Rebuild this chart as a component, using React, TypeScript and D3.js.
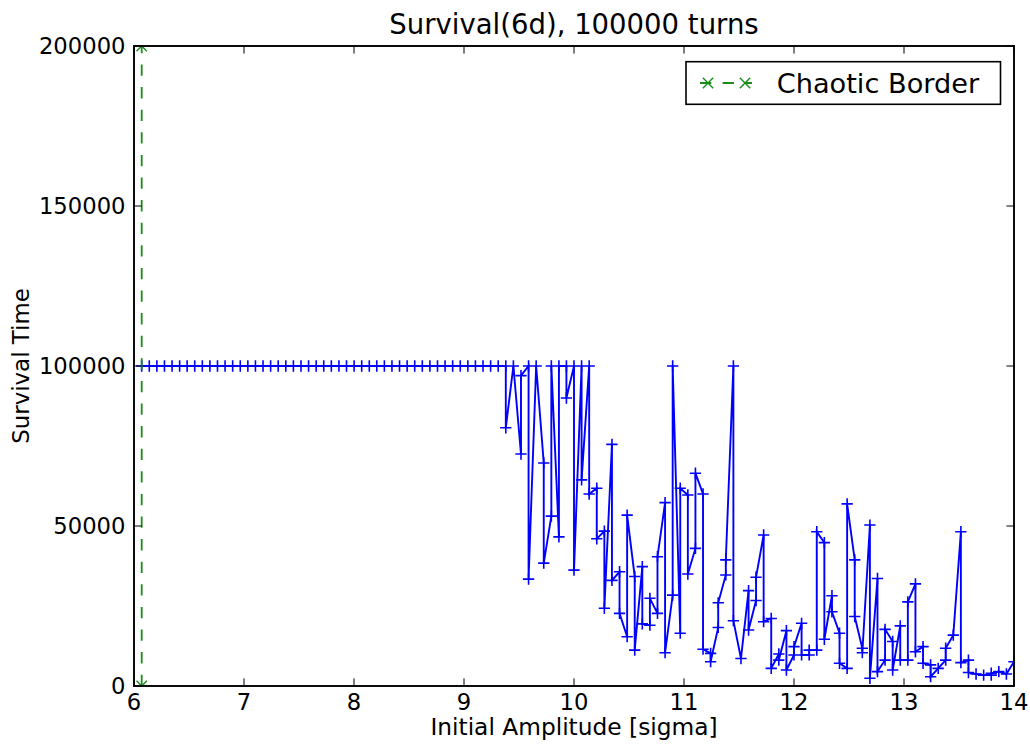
import React from "react";
import * as d3 from "d3";

// Initial amplitudes (in sigma) of the tracked particles
const amplitude = [
  6.070, 6.139, 6.208, 6.277, 6.346, 6.415, 6.483, 6.552, 6.621, 6.690,
  6.759, 6.828, 6.897, 6.966, 7.035, 7.104, 7.173, 7.242, 7.311, 7.380,
  7.449, 7.518, 7.587, 7.656, 7.725, 7.794, 7.863, 7.932, 8.001, 8.070,
  8.139, 8.207, 8.276, 8.345, 8.414, 8.483, 8.552, 8.621, 8.690, 8.759,
  8.828, 8.897, 8.966, 9.035, 9.104, 9.173, 9.242, 9.311, 9.380, 9.449,
  9.518, 9.587, 9.656, 9.725, 9.794, 9.863, 9.931, 10.000, 10.069, 10.138,
  10.207, 10.276, 10.345, 10.414, 10.483, 10.552, 10.621, 10.690, 10.759, 10.828,
  10.897, 10.966, 11.035, 11.104, 11.173, 11.242, 11.311, 11.380, 11.449, 11.518,
  11.587, 11.655, 11.724, 11.793, 11.862, 11.931, 12.000, 12.069, 12.138, 12.207,
  12.276, 12.345, 12.414, 12.483, 12.552, 12.621, 12.690, 12.759, 12.828, 12.897,
  12.966, 13.035, 13.104, 13.173, 13.242, 13.311, 13.379, 13.448, 13.517, 13.586,
  13.655, 13.724, 13.793, 13.862, 13.931, 14.000,
];

// Survival time (turns) of the first particle launched at each amplitude
const survivalFirst = [
  100000, 100000, 100000, 100000, 100000, 100000, 100000, 100000, 100000, 100000,
  100000, 100000, 100000, 100000, 100000, 100000, 100000, 100000, 100000, 100000,
  100000, 100000, 100000, 100000, 100000, 100000, 100000, 100000, 100000, 100000,
  100000, 100000, 100000, 100000, 100000, 100000, 100000, 100000, 100000, 100000,
  100000, 100000, 100000, 100000, 100000, 100000, 100000, 100000, 100000, 100000,
  72500, 100000, 100000, 69700, 53100, 46600, 100000, 100000, 100000, 100000,
  61800, 48400, 75500, 35700, 15400, 34200, 37300, 19000, 22700, 57300,
  28400, 16500, 59700, 43000, 60000, 10200, 18300, 34700, 100000, 8600,
  29800, 26700, 47200, 21100, 10000, 17300, 9700, 19600, 9700, 11200,
  44800, 28200, 16500, 5500, 39400, 11800, 50300, 33600, 8100, 13900,
  18800, 8100, 31900, 12300, 6600, 5500, 8100, 15900, 48200, 8100,
  3750, 3400, 3400, 4500, 3750, 7600,
];

// Survival time (turns) of the second particle launched at each amplitude
const survivalSecond = [
  100000, 100000, 100000, 100000, 100000, 100000, 100000, 100000, 100000, 100000,
  100000, 100000, 100000, 100000, 100000, 100000, 100000, 100000, 100000, 100000,
  100000, 100000, 100000, 100000, 100000, 100000, 100000, 100000, 100000, 100000,
  100000, 100000, 100000, 100000, 100000, 100000, 100000, 100000, 100000, 100000,
  100000, 100000, 100000, 100000, 100000, 100000, 100000, 100000, 80700, 100000,
  97000, 33400, 100000, 38400, 100000, 100000, 90000, 36200, 64400, 60000,
  46000, 24300, 33000, 22700, 53400, 11200, 19400, 27400, 40400, 10400,
  100000, 61800, 35000, 66500, 11500, 7600, 26000, 39400, 20400, 8600,
  17500, 34000, 20100, 5500, 8100, 5000, 12300, 9700, 11200, 48200,
  14600, 23200, 7100, 56900, 21700, 10400, 2400, 4500, 17700, 5000,
  8100, 26300, 10700, 7100, 2900, 5500, 11800, 15900, 7300, 4200,
  3750, 3400, 4000, 4500, 3750, 7600,
];

// Chaotic border found by the tracking scan
const borderAmplitude = [6.07, 6.07];
const borderSurvival = [0, 200000];

const xTicks = [6, 7, 8, 9, 10, 11, 12, 13, 14];
const yTicks = [0, 50000, 100000, 150000, 200000];

const W = 1030;
const H = 746;
const plot = { left: 134, right: 1014, top: 46, bottom: 686 };
const FONT = "'DejaVu Sans', sans-serif";
const TICK = 7.6;
const GREEN = "#1a8c1a";

export default function App() {
  const x = d3.scaleLinear().domain([6, 14]).range([plot.left, plot.right]);
  const y = d3.scaleLinear().domain([0, 200000]).range([plot.bottom, plot.top]);

  const points: [number, number][] = [];
  amplitude.forEach((a, i) => {
    points.push([a, survivalFirst[i]]);
    points.push([a, survivalSecond[i]]);
  });

  const line = d3
    .line<[number, number]>()
    .x((d) => x(d[0]))
    .y((d) => y(d[1]));

  const border: [number, number][] = borderAmplitude.map((a, i) => [a, borderSurvival[i]]);

  const plus = (cx: number, cy: number, r: number) =>
    `M${cx - r},${cy}H${cx + r}M${cx},${cy - r}V${cy + r}`;
  const cross = (cx: number, cy: number, r: number) =>
    `M${cx - r},${cy - r}L${cx + r},${cy + r}M${cx - r},${cy + r}L${cx + r},${cy - r}`;

  const mr = 5.65;
  const xr = 5.2;

  return (
    <svg
      width={W}
      height={H}
      style={{ position: "absolute", left: 0, top: 0, background: "#fff" }}
      fontFamily={FONT}
    >
      <defs>
        <clipPath id="plot-area">
          <rect
            x={plot.left}
            y={plot.top}
            width={plot.right - plot.left}
            height={plot.bottom - plot.top}
          />
        </clipPath>
      </defs>
      <rect x={0} y={0} width={W} height={H} fill="#fff" />

      <g clipPath="url(#plot-area)">
        {/* survival curve */}
        <path d={line(points) ?? ""} fill="none" stroke="#0000ff" strokeWidth={1.9} />
        <path
          d={points.map((p) => plus(x(p[0]), y(p[1]), mr)).join("")}
          fill="none"
          stroke="#0000ff"
          strokeWidth={1.6}
        />
        {/* chaotic border */}
        <path
          d={line(border) ?? ""}
          fill="none"
          stroke={GREEN}
          strokeWidth={1.8}
          strokeDasharray="11.3,11.3"
        />
        <path
          d={border.map((p) => cross(x(p[0]), y(p[1]), xr)).join("")}
          fill="none"
          stroke={GREEN}
          strokeWidth={1.4}
        />
      </g>

      {/* ticks on all four sides, pointing inward */}
      <g stroke="#000" strokeWidth={1}>
        {xTicks.map((t) => (
          <g key={"xt" + t}>
            <line x1={x(t)} x2={x(t)} y1={plot.bottom} y2={plot.bottom - TICK} />
            <line x1={x(t)} x2={x(t)} y1={plot.top} y2={plot.top + TICK} />
          </g>
        ))}
        {yTicks.map((t) => (
          <g key={"yt" + t}>
            <line x1={plot.left} x2={plot.left + TICK} y1={y(t)} y2={y(t)} />
            <line x1={plot.right} x2={plot.right - TICK} y1={y(t)} y2={y(t)} />
          </g>
        ))}
      </g>

      <rect
        x={plot.left}
        y={plot.top}
        width={plot.right - plot.left}
        height={plot.bottom - plot.top}
        fill="none"
        stroke="#000"
        strokeWidth={1.9}
      />

      <g fontSize={22.7} fill="#000">
        {xTicks.map((t) => (
          <text key={"xl" + t} x={x(t)} y={plot.bottom + 24} textAnchor="middle">
            {t}
          </text>
        ))}
        {yTicks.map((t) => (
          <text
            key={"yl" + t}
            x={plot.left - 8.5}
            y={y(t)}
            textAnchor="end"
            dominantBaseline="central"
          >
            {t}
          </text>
        ))}
      </g>

      <text x={(plot.left + plot.right) / 2} y={33.5} textAnchor="middle" fontSize={27.5}>
        Survival(6d), 100000 turns
      </text>
      <text x={(plot.left + plot.right) / 2} y={735} textAnchor="middle" fontSize={23.3}>
        Initial Amplitude [sigma]
      </text>
      <text
        transform={`translate(28.5, ${(plot.top + plot.bottom) / 2}) rotate(-90)`}
        textAnchor="middle"
        fontSize={22.9}
      >
        Survival Time
      </text>

      {/* legend */}
      <g>
        <rect x={686} y={61.7} width={314.5} height={42.6} fill="#fff" stroke="#000" strokeWidth={1.6} />
        <line
          x1={700}
          x2={752}
          y1={83}
          y2={83}
          stroke={GREEN}
          strokeWidth={1.8}
          strokeDasharray="11.3,11.3"
        />
        <path d={cross(708, 83, xr) + cross(745, 83, xr)} fill="none" stroke={GREEN} strokeWidth={1.4} />
        <text x={776.7} y={93} fontSize={27.2}>
          Chaotic Border
        </text>
      </g>
    </svg>
  );
}
